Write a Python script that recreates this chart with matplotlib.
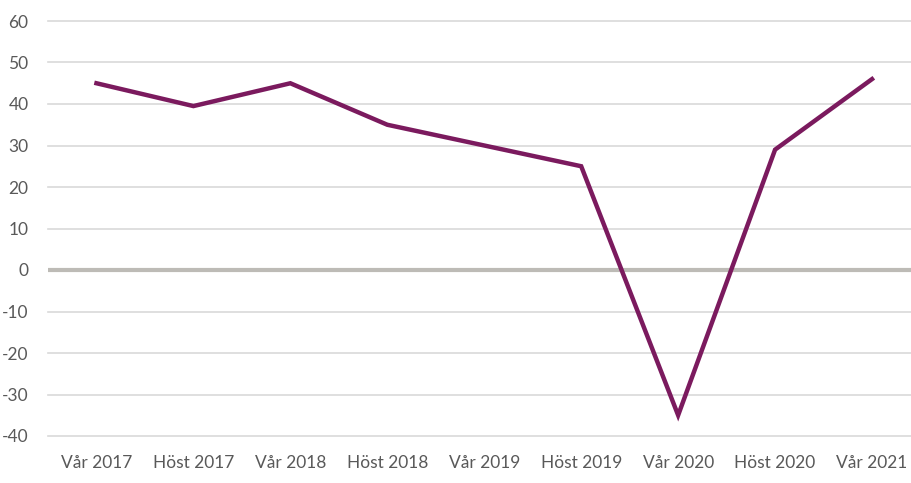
import matplotlib
matplotlib.use("Agg")
import matplotlib.pyplot as plt

categories = ["Vår 2017", "Höst 2017", "Vår 2018", "Höst 2018", "Vår 2019",
              "Höst 2019", "Vår 2020", "Höst 2020", "Vår 2021"]
values = [45, 39.5, 45, 35, 30, 25, -35, 29, 46]
yticks = [60, 50, 40, 30, 20, 10, 0, -10, -20, -30, -40]
ytick_labels = ["60", "50", "40", "30", "20", "10", "0", "-10", "-20", "-30", "-40"]

plt.rcParams['font.family'] = ['Lato', 'DejaVu Sans']
text_color = "#595959"

fig = plt.figure(figsize=(9.12, 4.83), dpi=100)
ax = fig.add_axes([48/912, 47/483, (912-48)/912, (436-21)/483])

x = list(range(len(categories)))
ax.set_ylim(-40, 60)
ax.set_xlim(-0.5, 8 + 40/97)

for t in yticks:
    if t == 0:
        continue
    ax.axhline(t, color="#D9D9D9", lw=1.2, zorder=1, clip_on=False)
ax.axhline(0, color="#BDBBB6", lw=3.0, zorder=2)

ax.plot(x, values, color="#7B1A5E", lw=3.2, zorder=3, solid_joinstyle="miter")

ax.set_yticks(yticks)
ax.set_yticklabels(ytick_labels)
ax.set_xticks(x)
ax.set_xticklabels(categories)
ax.tick_params(axis="both", length=0, labelsize=12.5, labelcolor=text_color)
ax.tick_params(axis="y", pad=14)
ax.tick_params(axis="x", pad=14)
for s in ax.spines.values():
    s.set_visible(False)

fig.savefig("out.png", dpi=100)
